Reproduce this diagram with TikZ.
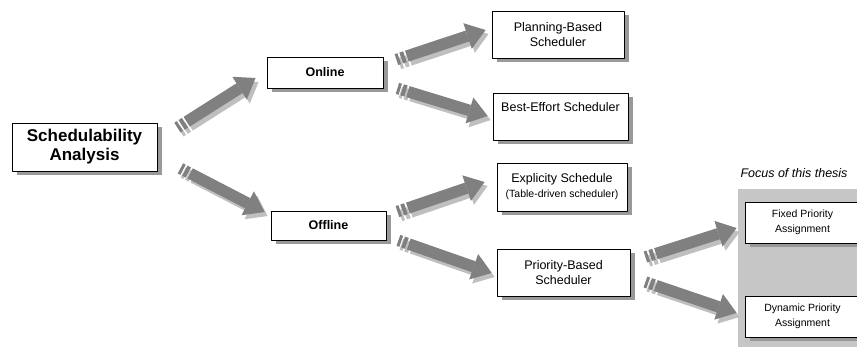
\documentclass[tikz,border=0pt]{standalone}
\usepackage{fontspec}
\setmainfont{Liberation Sans}
\usetikzlibrary{arrows.meta,calc,shadows}

\begin{document}
\begin{tikzpicture}[x=1pt, y=-1pt, line join=round,
	box/.style={draw, fill=white, line width=0.8pt, align=center, inner sep=1pt,
		drop shadow={shadow xshift=5pt, shadow yshift=-4pt, fill=gray!80, opacity=1}},
	txtbig/.style={font=\fontsize{17}{19}\selectfont\bfseries},
	txtbold/.style={font=\fontsize{12.5}{15}\selectfont\bfseries},
	txtmid/.style={font=\fontsize{12.5}{15}\selectfont},
	txtsmall/.style={font=\fontsize{10.5}{14.5}\selectfont},
	fat/.style={line width=11.5pt, dash pattern=on 3pt off 2pt on 4pt off 2pt on 400pt,
		-{Triangle[width=27pt, length=19pt, line width=0pt]}}]
		\def\W{857} \def\H{347}
		\useasboundingbox (0,0) rectangle (\W,\H);
		\clip (0,0) rectangle (\W,\H);
		\def\bigarrow#1#2{%
			\draw[fat, gray!50, transform canvas={xshift=3pt, yshift=-4pt}] #1 -- #2;
			\draw[fat, gray] #1 -- #2;}
		% focus of the thesis
		\fill[gray!45] (738,189) rectangle (875,352);
		\node[font=\fontsize{12.5}{15}\selectfont\itshape] (focus) at (794,173) {Focus of this thesis};
		% boxes
		\node[box, txtbig, minimum width=145pt, minimum height=48pt] (sched) at (84.5,147) {Schedulability\\Analysis};
		\node[box, txtbold, minimum width=116pt, minimum height=31pt] (online) at (325,72.5) {Online};
		\node[box, txtbold, minimum width=115pt, minimum height=29pt] (offline) at (328.5,225.5) {Offline};
		\node[box, txtmid, minimum width=132pt, minimum height=47pt] (planning) at (558,34.5) {Planning-Based\\Scheduler};
		\node[box, txtmid, minimum width=135pt, minimum height=47pt] (best) at (560.5,116.5) {Best-Effort Scheduler\\\strut};
		\node[box, txtmid, minimum width=130pt, minimum height=48pt] (table) at (562,187) {Explicity Schedule\\{\fontsize{10.5}{14}\selectfont(Table-driven scheduler)}};
		\node[box, txtmid, minimum width=133pt, minimum height=47pt] (prio) at (563.5,272.5) {Priority-Based\\Scheduler};
		\node[box, txtsmall, minimum width=115pt, minimum height=41pt] (fixed) at (802.5,222.5) {Fixed Priority\\Assignment};
		\node[box, txtsmall, minimum width=115pt, minimum height=41pt] (dynamic) at (802.5,316.5) {Dynamic Priority\\Assignment};
		% arrows
		\bigarrow{($(sched.north east)+(20,5)$)}{($(online.west)+(-11,5.5)$)}
		\bigarrow{($(sched.south east)+(23,-3)$)}{($(offline.west)+(-6,-13.5)$)}
		\bigarrow{($(online.north east)+(13,3)$)}{($(planning.west)+(-6,-4.5)$)}
		\bigarrow{($(online.south east)+(14,0)$)}{($(best.west)+(-5,-0.5)$)}
		\bigarrow{($(offline.north east)+(11,1)$)}{($(table.west)+(-12,-5)$)}
		\bigarrow{($(offline.south east)+(12,0)$)}{($(prio.west)+(-5,0.5)$)}
		\bigarrow{($(prio.east)+(15,-15.5)$)}{($(fixed.west)+(-8,5.5)$)}
		\bigarrow{($(prio.east)+(15,9.5)$)}{($(dynamic.west)+(-8,-3.5)$)}
\end{tikzpicture}
\end{document}
